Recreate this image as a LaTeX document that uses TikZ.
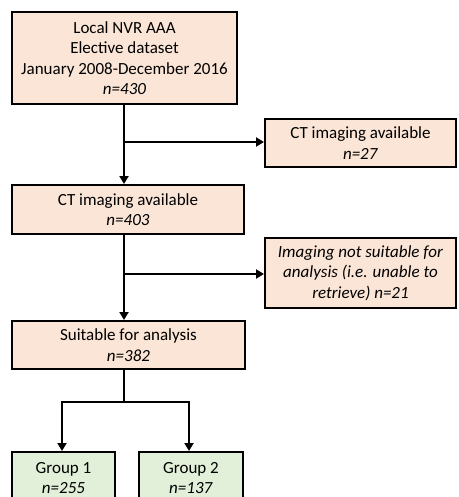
\documentclass[tikz,border=0pt]{standalone}
\usepackage{fontspec}
\setmainfont{Carlito}
\usetikzlibrary{arrows.meta,calc}
\definecolor{peach}{HTML}{FBE5D6}
\definecolor{lgreen}{HTML}{E2F0D9}
\begin{document}
\begin{tikzpicture}[x=1pt,y=-1pt,
  box/.style={draw=black,line width=2pt,fill=peach,inner sep=0pt,align=center,
    font=\fontsize{17}{20.5}\selectfont},
  gbox/.style={box,fill=lgreen},
  conn/.style={line width=2.4pt},
  arr/.style={conn,-{Triangle[length=8pt,width=9pt]}}]
\useasboundingbox (0,0) rectangle (458,497);
\node[box,minimum width=225pt,minimum height=92pt] (b1) at (124.5,58)
  {Local NVR AAA\\Elective dataset\\January 2008-December 2016\\\textit{n=430}};
\node[box,minimum width=191pt,minimum height=48pt] (b3) at (360.5,143)
  {CT imaging available\\\textit{n=27}};
\node[box,minimum width=232pt,minimum height=49pt] (b2) at (128,209.5)
  {CT imaging available\\\textit{n=403}};
\node[box,minimum width=191pt,minimum height=70pt] (b4) at (360.5,273)
  {\textit{Imaging not suitable for}\\\textit{analysis (i.e. unable to}\\\textit{retrieve) n=21}};
\node[box,minimum width=233pt,minimum height=48pt] (b5) at (128.5,345)
  {Suitable for analysis\\\textit{n=382}};
\node[gbox,minimum width=103pt,minimum height=52pt] (g1) at (63.5,478)
  {Group 1\\\textit{n=255}};
\node[gbox,minimum width=104pt,minimum height=52pt] (g2) at (191,478)
  {Group 2\\\textit{n=137}};
\coordinate (m1) at (124,104);
\coordinate (j1) at (124,142);
\coordinate (m2) at (124,234);
\coordinate (j2) at (124,274);
\coordinate (m3) at (124,369);
\coordinate (j3) at (124,402);
\coordinate (h1) at (62,402);
\coordinate (h2) at (189,402);
\draw[arr] (b1.south -| m1) -- (m1 |- b2.north);
\draw[arr] (j1) -- (j1 -| b3.west);
\draw[arr] (b2.south -| m2) -- (m2 |- b5.north);
\draw[arr] (j2) -- (j2 -| b4.west);
\draw[conn] (b5.south -| m3) -- (j3);
\draw[arr] (j3) -- (h1) -- (h1 |- g1.north);
\draw[arr] (j3) -- (h2) -- (h2 |- g2.north);
\end{tikzpicture}
\end{document}
